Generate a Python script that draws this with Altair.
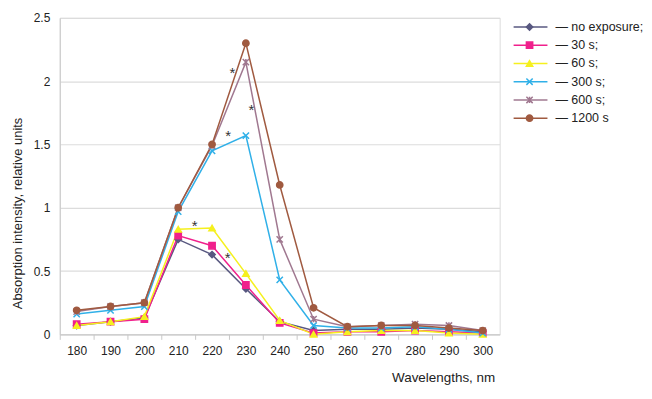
import altair as alt
import pandas as pd

wavelengths = [180, 190, 200, 210, 220, 230, 240, 250, 260, 270, 280, 290, 300]
series = ["no exposure", "30 s", "60 s", "300 s", "600 s", "1200 s"]
legend_labels = ["— no exposure;", "— 30 s;", "— 60 s;", "— 300 s;", "— 600 s;", "— 1200 s"]
colors = ["#585880", "#f0208c", "#f5f01e", "#30b0e8", "#a07890", "#a05a40"]
shapes = ["diamond", "square", "triangle-up",
          "M-1,-1L1,1M-1,1L1,-1",
          "M-1,-1L1,1M-1,1L1,-1M0,-1L0,1",
          "circle"]

no_exposure = [0.07, 0.10, 0.13, 0.75, 0.63, 0.36, 0.10, 0.03, 0.04, 0.04, 0.05, 0.04, 0.02]
s30 = [0.08, 0.10, 0.12, 0.78, 0.70, 0.39, 0.09, 0.01, 0.02, 0.02, 0.03, 0.02, 0.01]
s60 = [0.07, 0.10, 0.14, 0.83, 0.84, 0.48, 0.11, 0.00, 0.02, 0.03, 0.03, 0.01, 0.00]
s300 = [0.16, 0.19, 0.22, 0.97, 1.45, 1.57, 0.43, 0.07, 0.05, 0.05, 0.06, 0.04, 0.01]
s600 = [0.18, 0.22, 0.25, 1.00, 1.49, 2.15, 0.75, 0.12, 0.06, 0.07, 0.08, 0.07, 0.03]
s1200 = [0.19, 0.22, 0.25, 1.00, 1.50, 2.30, 1.18, 0.21, 0.06, 0.07, 0.07, 0.05, 0.03]

star_x = [214.9, 224.6, 224.8, 226.0, 231.6]
star_y = [0.87, 0.62, 1.58, 2.08, 1.79]

y_ticks = [0, 0.5, 1, 1.5, 2, 2.5]

values = [no_exposure, s30, s60, s300, s600, s1200]
rows = []
for i, (name, vals) in enumerate(zip(series, values)):
    for w, v in zip(wavelengths, vals):
        rows.append({"series": name, "order": i, "wl": w, "val": v})
df = pd.DataFrame(rows)
stars = pd.DataFrame({"x": star_x, "y": star_y, "t": ["*"] * len(star_x)})
leg = pd.DataFrame({"series": series, "label": legend_labels})

FONT = "Liberation Sans"
col_scale = alt.Scale(domain=series, range=colors)
shape_scale = alt.Scale(domain=series, range=shapes)

x_enc = alt.X("wl:Q", scale=alt.Scale(domain=[wavelengths[0] - 5, wavelengths[-1] + 5], nice=False, zero=False),
              axis=alt.Axis(values=wavelengths, format="d", tickCount=40,
                            tickOffset=-17, labelOffset=17, labelFlush=False, labelOverlap=False,
                            grid=False, ticks=True, tickSize=5,
                            tickColor="#c8c8c8", domainColor="#c8c8c8",
                            labelPadding=6, labelFontSize=12, labelColor="#222",
                            title="Wavelengths, nm", titleFontSize=13.5, titleFontWeight="normal",
                            titleColor="#222", titleX=437, titleAlign="right", titlePadding=14,
                            labelFont=FONT, titleFont=FONT))
y_enc = alt.Y("val:Q", scale=alt.Scale(domain=[0, 2.5], nice=False),
              axis=alt.Axis(values=y_ticks, format="~g", ticks=False, grid=True,
                            gridColor="#dcdcdc", gridWidth=1.2, domainColor="#c8c8c8",
                            labelPadding=10, labelFontSize=12, labelColor="#222",
                            title="Absorption intensity, relative units", titleFontSize=13,
                            titleFontWeight="normal", titleColor="#222", titlePadding=9,
                            titleY=196, titleAlign="center",
                            labelFont=FONT, titleFont=FONT))

lines = alt.Chart(df).mark_line(strokeWidth=1.5).encode(
    x=x_enc, y=y_enc,
    color=alt.Color("series:N", scale=col_scale, legend=None),
    order="wl:Q",
)
points = alt.Chart(df).mark_point(filled=True, size=40, strokeWidth=1.5, opacity=1).encode(
    x="wl:Q", y="val:Q",
    fill=alt.Fill("series:N", scale=col_scale, legend=None),
    stroke=alt.Stroke("series:N", scale=col_scale, legend=None),
    shape=alt.Shape("series:N", scale=shape_scale, legend=None),
)
star_marks = alt.Chart(stars).mark_text(fontSize=15, color="#333", font=FONT, baseline="middle", dy=2).encode(
    x="x:Q", y="y:Q", text="t:N"
)

main = alt.layer(lines, points, star_marks).properties(
    width=442, height=318, view=alt.ViewBackground(stroke="#dcdcdc")
)

leg_y = alt.Y("series:N", sort=series, axis=None, scale=alt.Scale(type="point", padding=0.5))
leg_rule = alt.Chart(leg).mark_rule(strokeWidth=1.5).encode(
    y=leg_y, x=alt.value(2), x2=alt.value(36),
    color=alt.Color("series:N", scale=col_scale, legend=None),
)
leg_pt = alt.Chart(leg).mark_point(filled=True, size=40, strokeWidth=1.5, opacity=1).encode(
    y=leg_y, x=alt.value(18),
    fill=alt.Fill("series:N", scale=col_scale, legend=None),
    stroke=alt.Stroke("series:N", scale=col_scale, legend=None),
    shape=alt.Shape("series:N", scale=shape_scale, legend=None),
)
leg_txt = alt.Chart(leg).mark_text(align="left", fontSize=12.5, color="#222", font=FONT).encode(
    y=leg_y, x=alt.value(44), text="label:N"
)
legend = alt.layer(leg_rule, leg_pt, leg_txt).properties(
    width=125, height=110, view=alt.ViewBackground(stroke=None)
)

chart = alt.hconcat(main, legend, spacing=11).properties(
    padding={"left": 2, "top": 2, "right": 0, "bottom": 5},
    background="white",
).resolve_scale(color="independent", fill="independent", stroke="independent", shape="independent")

chart.save("out.html", embed_options={"renderer": "svg", "actions": False})
